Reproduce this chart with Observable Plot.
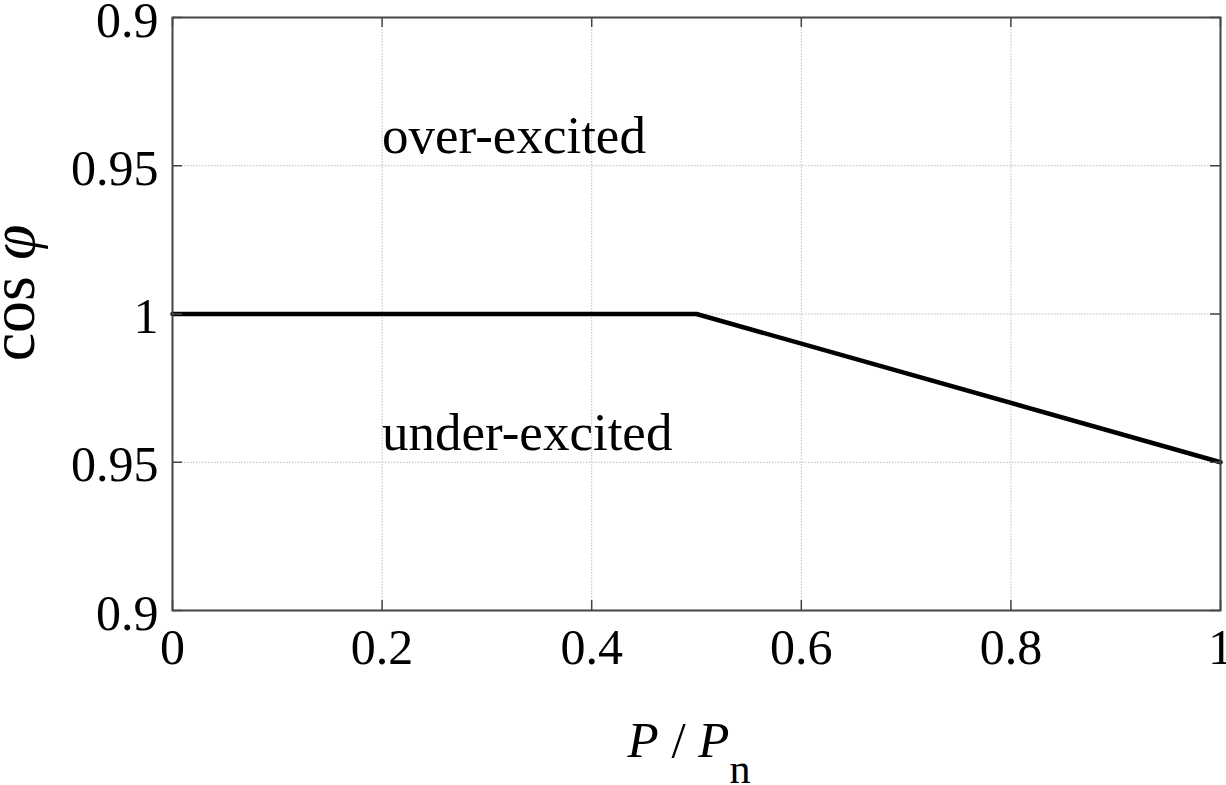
<!DOCTYPE html>
<html><head><meta charset="utf-8">
<script src="https://cdn.jsdelivr.net/npm/d3@7"></script>
<script src="https://cdn.jsdelivr.net/npm/@observablehq/plot@0.6"></script>
<style>html,body{margin:0;padding:0;background:#fff} svg{display:block}</style>
</head><body><div id="chart"></div>
<script>
// P / Pn and cos phi of the characteristic (all points on the under-excited side or at 1)
const pRatio = [0, 0.5, 1];
const cosPhi = [1, 1, 0.95];
const excitation = ["under", "under", "under"];

// Axis ticks; the y axis is folded: over-excited above 1, under-excited below
const xTicks = [0, 0.2, 0.4, 0.6, 0.8, 1];
const xTickLabels = ["0", "0.2", "0.4", "0.6", "0.8", "1"];
const yTicks = [0.9, 0.95, 1, 1.05, 1.1];
const yTickLabels = ["0.9", "0.95", "1", "0.95", "0.9"];

// Region annotations
const regionLabels = ["over-excited", "under-excited"];
const regionSide = ["over", "under"];
const regionCos = [0.94, 0.96];
const regionP = [0.2, 0.2];

const folded = (cos, side) => side === "over" ? 2 - cos : cos;

const lineData = pRatio.map((p, i) => ({p, y: folded(cosPhi[i], excitation[i])}));
const regionData = regionLabels.map((t, i) => ({t, p: regionP[i], y: folded(regionCos[i], regionSide[i])}));

const axisColor = "#444";
const gridStyle = {stroke: "#bdbdbd", strokeWidth: 1, strokeDasharray: "1.5,1.5", strokeOpacity: 1};

const chart = Plot.plot({
  width: 1226,
  height: 785,
  marginLeft: 172,
  marginRight: 6,
  marginTop: 17,
  marginBottom: 175,
  style: {fontFamily: "'Liberation Serif', 'Times New Roman', serif", fontSize: "50px", background: "#fff", color: "#000"},
  x: {domain: [0, 1], ticks: xTicks},
  y: {domain: [0.9, 1.1], ticks: yTicks},
  marks: [
    Plot.gridX(xTicks, {x: d => d, ...gridStyle}),
    Plot.gridY(yTicks, {y: d => d, ...gridStyle}),
    Plot.text(regionData, {x: "p", y: "y", text: "t", textAnchor: "start", fontSize: 53, fill: "#000", ariaLabel: "region-labels"}),
    Plot.line(lineData, {x: "p", y: "y", stroke: "#000", strokeWidth: 4.5, strokeLinejoin: "miter"}),
    Plot.frame({stroke: axisColor, strokeWidth: 2}),
    Plot.ruleX(xTicks, {x: d => d, y1: () => 0.9, y2: () => 0.9, insetTop: -10, stroke: axisColor, strokeWidth: 1.5}),
    Plot.ruleX(xTicks, {x: d => d, y1: () => 1.1, y2: () => 1.1, insetBottom: -10, stroke: axisColor, strokeWidth: 1.5}),
    Plot.ruleY(yTicks, {y: d => d, x1: () => 0, x2: () => 0, insetRight: -10, stroke: axisColor, strokeWidth: 1.5}),
    Plot.ruleY(yTicks, {y: d => d, x1: () => 1, x2: () => 1, insetLeft: -10, stroke: axisColor, strokeWidth: 1.5}),
    Plot.axisX(xTicks, {tickSize: 0, tickPadding: 18, fontSize: 50, label: null,
      tickFormat: d => xTickLabels[xTicks.indexOf(d)]}),
    Plot.axisY(yTicks, {tickSize: 0, tickPadding: 14, fontSize: 50, label: null, dy: 3,
      tickFormat: d => yTickLabels[yTicks.indexOf(d)]})
  ]
});

document.getElementById("chart").appendChild(chart);

// White background boxes behind the region annotations
const svgNS = "http://www.w3.org/2000/svg";
chart.querySelectorAll('g[aria-label="region-labels"] text').forEach(t => {
  const b = t.getBBox();
  const r = document.createElementNS(svgNS, "rect");
  r.setAttribute("x", b.x - 10);
  r.setAttribute("y", b.y - 6);
  r.setAttribute("width", b.width + 18);
  r.setAttribute("height", b.height + 12);
  r.setAttribute("fill", "#fff");
  r.setAttribute("stroke", "none");
  if (t.getAttribute("transform")) r.setAttribute("transform", t.getAttribute("transform"));
  t.parentNode.insertBefore(r, t);
});

// Axis titles
const svg = d3.select(chart);
const yTitle = svg.append("text")
  .attr("transform", "translate(34,293) rotate(-90)")
  .attr("text-anchor", "middle")
  .attr("font-size", 64)
  .attr("fill", "#000");
yTitle.append("tspan").text("cos ");
yTitle.append("tspan").attr("font-style", "italic").text("φ");

const xTitle = svg.append("text")
  .attr("x", 689)
  .attr("y", 757)
  .attr("text-anchor", "middle")
  .attr("font-size", 51)
  .attr("fill", "#000");
xTitle.append("tspan").attr("font-style", "italic").text("P");
xTitle.append("tspan").text(" / ");
xTitle.append("tspan").attr("font-style", "italic").text("P");
xTitle.append("tspan").attr("font-size", 42).attr("dy", 26).text("n");
</script>
</body></html>
